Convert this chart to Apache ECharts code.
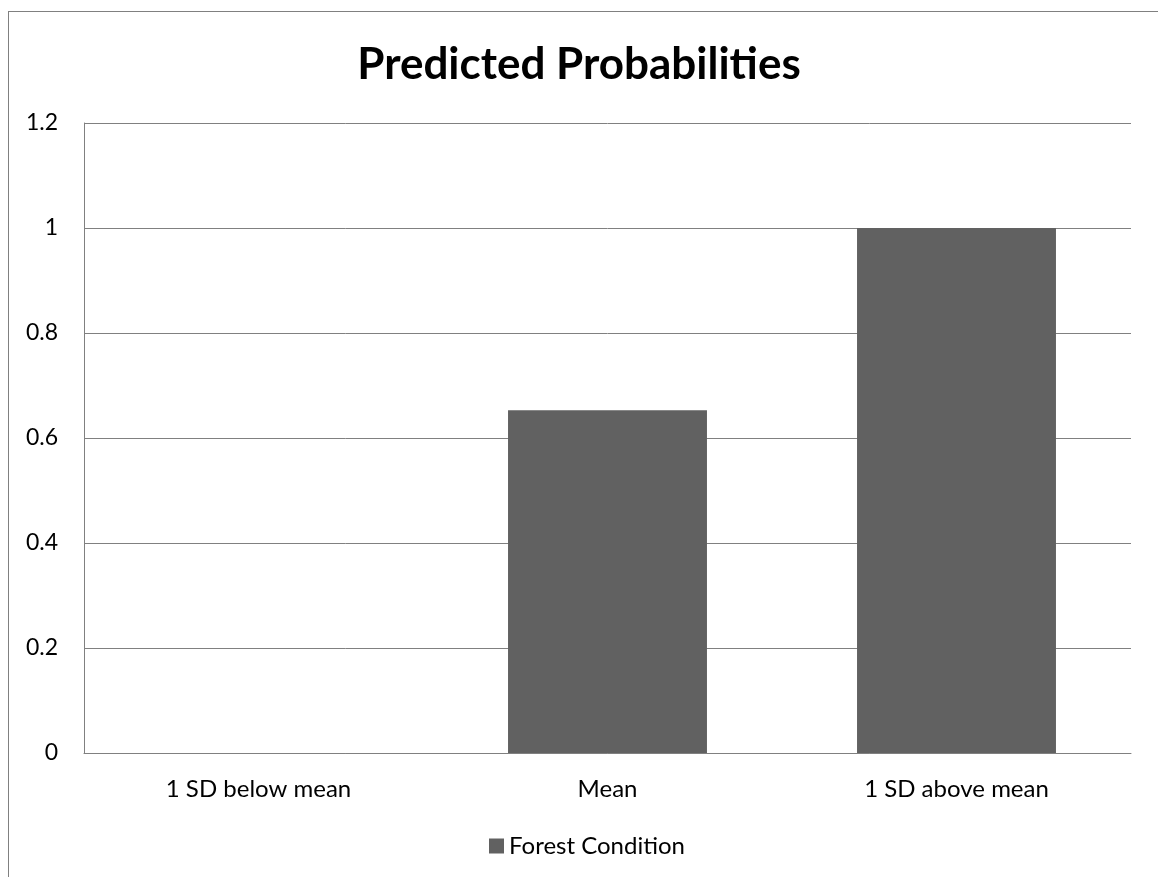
<!DOCTYPE html>
<html><head><meta charset="utf-8">
<script src="https://cdn.jsdelivr.net/npm/echarts@6/dist/echarts.min.js"></script>
<style>
html,body{margin:0;padding:0;background:#fff;overflow:hidden;}
#frame{position:absolute;left:8px;top:11px;width:1300px;height:1000px;border:1px solid #808080;box-sizing:border-box;}
#c{position:absolute;left:0;top:0;width:1158px;height:877px;}
</style></head>
<body>
<div id="frame"></div>
<div id="c"></div>
<script>
const categories = ['1 SD below mean', 'Mean', '1 SD above mean'];
const seriesName = 'Forest Condition';
const values = [0, 0.653, 1];
const yTicks = [0, 0.2, 0.4, 0.6, 0.8, 1, 1.2];

const chart = echarts.init(document.getElementById('c'));
const font = 'Lato, "Open Sans", sans-serif';
chart.setOption({
  animation: false,
  title: {
    text: 'Predicted Probabilities', left: 'center', top: 38,
    textStyle: {fontFamily: font, fontSize: 44, fontWeight: 'bold', color: '#000'}
  },
  legend: {
    data: [seriesName], top: 829, left: 484, icon: 'rect', itemWidth: 15, itemHeight: 15, itemGap: 8,
    textStyle: {fontFamily: font, fontSize: 24, color: '#000'}
  },
  grid: {left: 84, right: 27, top: 123, bottom: 124},
  xAxis: {
    type: 'category', data: categories,
    axisLine: {lineStyle: {color: '#808080', width: 1}},
    axisTick: {show: false},
    axisLabel: {fontFamily: font, fontSize: 24, color: '#000', margin: 24}
  },
  yAxis: {
    type: 'value', min: 0, max: 1.2, interval: 0.2,
    axisLine: {show: true, lineStyle: {color: '#808080', width: 1}},
    axisTick: {show: false},
    splitLine: {lineStyle: {color: '#808080', width: 1}},
    axisLabel: {fontFamily: font, fontSize: 23, color: '#000', margin: 26,
      formatter: v => { const t = yTicks.find(x => Math.abs(x - v) < 1e-9); return t === undefined ? '' : String(t); }}
  },
  series: [{
    name: seriesName, type: 'bar', data: values, barWidth: '57%',
    itemStyle: {color: '#616161'}
  }]
});
</script>
</body></html>
